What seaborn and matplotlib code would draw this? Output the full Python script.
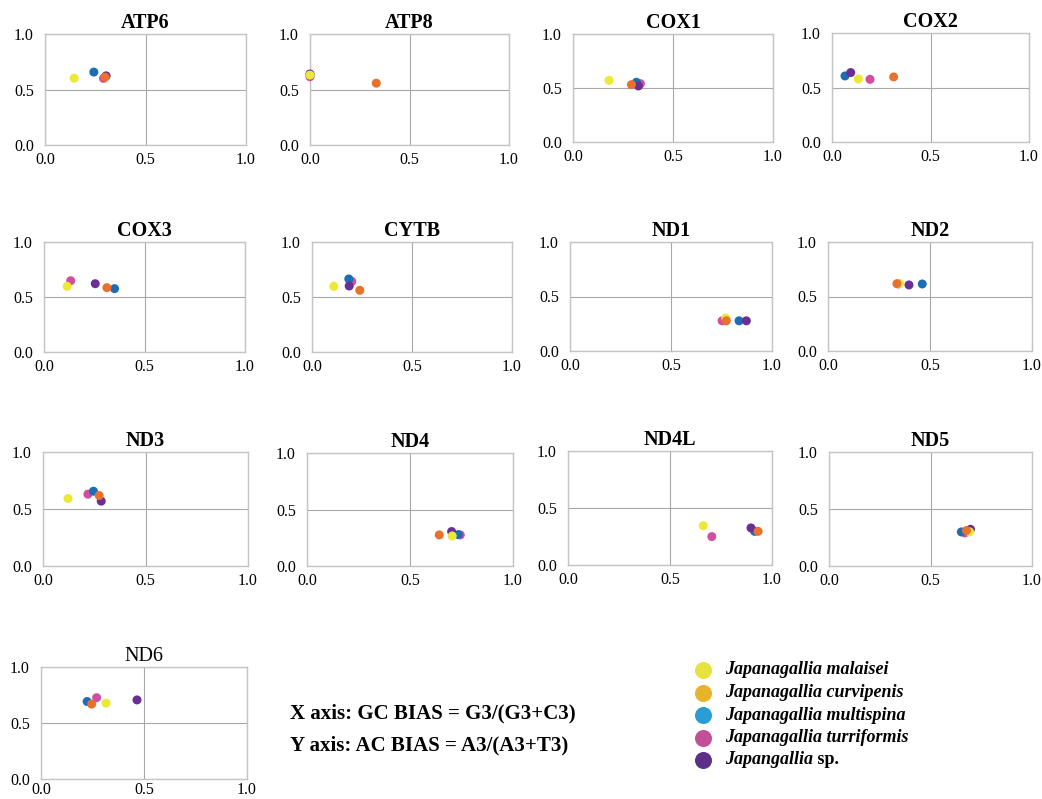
import matplotlib
matplotlib.use("Agg")
import matplotlib.pyplot as plt
import seaborn as sns
import pandas as pd

# Genes (one panel each)
genes = ["ATP6", "ATP8", "COX1", "COX2", "COX3", "CYTB", "ND1", "ND2",
         "ND3", "ND4", "ND4L", "ND5", "ND6"]

# Species
species = ["Japanagallia malaisei", "Japanagallia curvipenis",
           "Japanagallia multispina", "Japanagallia turriformis",
           "Japangallia sp."]

# GC bias (x) and AC bias (y) at third codon positions, per gene
malaisei_x = [0.145, 0.0, 0.18, 0.134, 0.115, 0.109, 0.771, 0.351, 0.122, 0.705, 0.663, 0.693, 0.316]
malaisei_y = [0.602, 0.63, 0.571, 0.578, 0.597, 0.597, 0.302, 0.618, 0.592, 0.266, 0.345, 0.299, 0.677]
curvipenis_x = [0.299, 0.333, 0.292, 0.313, 0.313, 0.239, 0.774, 0.338, 0.274, 0.642, 0.932, 0.677, 0.246]
curvipenis_y = [0.611, 0.557, 0.531, 0.597, 0.585, 0.561, 0.277, 0.618, 0.618, 0.275, 0.295, 0.311, 0.669]
multispina_x = [0.243, 0.0, 0.317, 0.066, 0.351, 0.184, 0.837, 0.462, 0.246, 0.734, 0.915, 0.652, 0.224]
multispina_y = [0.657, 0.63, 0.553, 0.606, 0.576, 0.664, 0.277, 0.615, 0.656, 0.278, 0.295, 0.299, 0.692]
turriformis_x = [0.291, 0.0, 0.337, 0.193, 0.133, 0.199, 0.753, 0.345, 0.219, 0.744, 0.705, 0.669, 0.27]
turriformis_y = [0.60, 0.615, 0.54, 0.575, 0.648, 0.642, 0.277, 0.615, 0.630, 0.275, 0.249, 0.29, 0.726]
sp_x = [0.304, 0.0, 0.327, 0.095, 0.255, 0.186, 0.873, 0.397, 0.284, 0.702, 0.897, 0.697, 0.466]
sp_y = [0.623, 0.64, 0.519, 0.637, 0.621, 0.60, 0.277, 0.606, 0.569, 0.305, 0.325, 0.322, 0.706]

tick_vals = [0.0, 0.5, 1.0]
tick_labels = ["0.0", "0.5", "1.0"]

# Point colours in panels and in the key
point_colors = ["#ece835", "#e8722d", "#1b6db6", "#d24e9e", "#6a2e96"]
key_colors = ["#e7e23f", "#e9b22b", "#2a9dd5", "#c24f98", "#5e2f88"]

# Stacking order of the points within a panel
draw_order = [3, 2, 4, 0, 1]

xs = [malaisei_x, curvipenis_x, multispina_x, turriformis_x, sp_x]
ys = [malaisei_y, curvipenis_y, multispina_y, turriformis_y, sp_y]
rows = []
for si in draw_order:
    for gi, g in enumerate(genes):
        rows.append({"gene": g, "species": species[si], "gc": xs[si][gi], "ac": ys[si][gi]})
df = pd.DataFrame(rows)

sns.set_theme(style="white")
plt.rcParams["font.family"] = ["Liberation Serif", "DejaVu Serif"]
plt.rcParams["text.color"] = "black"
plt.rcParams["xtick.color"] = "black"
plt.rcParams["ytick.color"] = "black"
plt.rcParams["axes.titlecolor"] = "black"

W, H = 1042, 799
fig = plt.figure(figsize=(W / 100, H / 100), dpi=100)
fig.patch.set_facecolor("white")

# Panel boxes in pixels: left, top, right, bottom
boxes = [(45, 34, 246, 145), (310, 34, 509, 145), (573, 34, 773, 142), (832, 33, 1029, 142),
         (44, 242, 245, 352), (312, 242, 512, 352), (570, 242, 772, 351), (828, 242, 1032, 351),
         (43, 452, 248, 566), (307, 453, 513, 566), (568, 451, 772, 565), (829, 452, 1032, 566),
         (41, 667, 247, 779)]

palette = dict(zip(species, point_colors))
for g, (l, t, r, b) in zip(genes, boxes):
    ax = fig.add_axes([l / W, 1 - b / H, (r - l) / W, (b - t) / H])
    sub = df[df["gene"] == g]
    sns.scatterplot(data=sub, x="gc", y="ac", hue="species", palette=palette,
                    s=42, linewidth=0, legend=False, ax=ax, clip_on=False, zorder=3)
    ax.set_xlim(0, 1)
    ax.set_ylim(0, 1)
    ax.set_xticks(tick_vals)
    ax.set_xticklabels(tick_labels)
    ax.set_yticks(tick_vals)
    ax.set_yticklabels(tick_labels)
    ax.tick_params(axis="both", length=0, labelsize=11.5, labelcolor="black")
    ax.tick_params(axis="y", pad=8)
    ax.tick_params(axis="x", pad=2 if g == "ND6" else 5)
    ax.grid(True, color="#a8a8a8", linewidth=0.8)
    for sp in ax.spines.values():
        sp.set_color("#c4c4c4")
        sp.set_linewidth(1.0)
    ax.set_xlabel("")
    ax.set_ylabel("")
    weight = "normal" if g == "ND6" else "bold"
    ax.set_title(g, fontsize=14.5, fontweight=weight, pad=4, color="black")

# Axis definitions
fig.text(290 / W, 1 - 713 / H, "X axis: GC BIAS = G3/(G3+C3)", fontsize=15,
         fontweight="bold", va="center", ha="left", color="black")
fig.text(290 / W, 1 - 745 / H, "Y axis: AC BIAS = A3/(A3+T3)", fontsize=15,
         fontweight="bold", va="center", ha="left", color="black")

# Species key
lax = fig.add_axes([0, 0, 1, 1])
lax.set_axis_off()
lax.set_xlim(0, W)
lax.set_ylim(H, 0)
for i, (name, col) in enumerate(zip(species, key_colors)):
    yk = 670 + i * 22.5
    lax.scatter([703], [yk], s=150, color=col, linewidth=0)
    if name.endswith(" sp."):
        t = lax.text(725, yk, name[:-4], fontsize=13, fontweight="bold",
                     fontstyle="italic", va="center", ha="left", color="black")
        lax.annotate(" sp.", xy=(1, 0), xycoords=t, fontsize=13, fontweight="bold",
                     va="bottom", ha="left", color="black")
    else:
        lax.text(725, yk, name, fontsize=13, fontweight="bold", fontstyle="italic",
                 va="center", ha="left", color="black")

fig.savefig("out.png", dpi=100, facecolor="white")
